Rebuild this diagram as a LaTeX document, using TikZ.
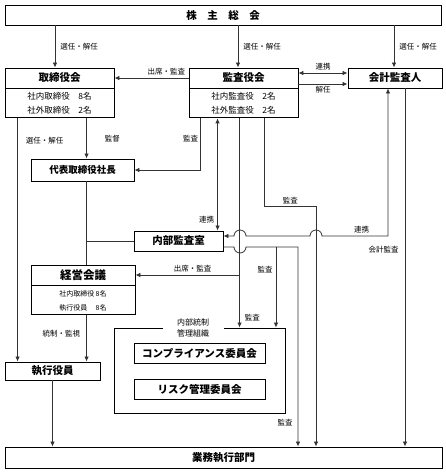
\documentclass[tikz,border=0pt]{standalone}
\usepackage{fontspec}
\setmainfont{Noto Sans CJK JP}
\usetikzlibrary{arrows.meta}
\tikzstyle{box}=[draw=black,line width=0.9pt,inner sep=0pt,font=\fontsize{10.5}{12}\selectfont\bfseries]
\tikzstyle{rows}=[draw=black,line width=0.9pt,inner sep=0pt,align=center,anchor=north,font=\fontsize{8.5}{14}\selectfont]
\tikzstyle{lbl}=[inner sep=1pt,font=\fontsize{7.5}{9}\selectfont]
\tikzstyle{line}=[draw=black!80,line width=0.8pt]
\tikzstyle{arrow}=[line,-{Latex[length=5pt,width=4.5pt]}]
\tikzstyle{twoway}=[line,{Latex[length=5pt,width=4.5pt]}-{Latex[length=5pt,width=4.5pt]}]

\begin{document}
\begin{tikzpicture}[x=1pt,y=1pt]
\useasboundingbox (0,0) rectangle (446,-472);
% boxes
\node[box,minimum width=436pt,minimum height=20pt] (soukai) at (223,-15) {株\hspace{1em}主\hspace{1em}総\hspace{1em}会};
\node[box,minimum width=109pt,minimum height=20pt] (torishimari) at (59.5,-78) {取締役会};
\node[rows,minimum width=109pt,minimum height=29pt] (torishimariin) at (torishimari.south) {社内取締役\quad 8名\\社外取締役\quad 2名};
\node[box,minimum width=109pt,minimum height=20pt] (kansayaku) at (243.5,-78) {監査役会};
\node[rows,minimum width=109pt,minimum height=29pt] (kansayakuin) at (kansayaku.south) {社内監査役\quad 2名\\社外監査役\quad 2名};
\node[box,minimum width=94pt,minimum height=20pt] (kaikei) at (395,-78) {会計監査人};
\node[box,minimum width=103pt,minimum height=22pt,font=\fontsize{9.5}{12}\selectfont\bfseries] (shacho) at (82.5,-170) {代表取締役社長};
\node[box,minimum width=89pt,minimum height=20pt] (naibu) at (178.5,-241) {内部監査室};
\node[box,minimum width=104pt,minimum height=20pt,font=\fontsize{11.5}{12}\selectfont\bfseries] (keiei) at (83,-275) {経営会議};
\node[rows,minimum width=104pt,minimum height=29pt,font=\fontsize{7}{14}\selectfont] (keieiin) at (keiei.south) {社内取締役\,8名\\執行役員\hspace{1em}\,8名};
\node[box,minimum width=95pt,minimum height=18pt] (shikko) at (52.5,-371) {執行役員};
\node[draw=black,line width=0.9pt,minimum width=171pt,minimum height=85pt] (tousei) at (199.5,-370.5) {};
\node[lbl,fill=white,align=center,minimum width=61pt,font=\fontsize{8}{10.5}\selectfont] (touseilbl) at (193,-328) {内部統制\\管理組織};
\node[box,minimum width=131pt,minimum height=20pt] (comp) at (199.5,-353) {コンプライアンス委員会};
\node[box,minimum width=131pt,minimum height=20pt] (risk) at (199.5,-389) {リスク管理委員会};
\node[box,minimum width=437pt,minimum height=21pt] (gyomu) at (223.5,-457.5) {業務執行部門};

% points on the boxes
\coordinate (selA) at ([xshift=-4.5pt]torishimari.north);
\coordinate (selB) at ([xshift=-5.5pt]kansayaku.north);
\coordinate (selC) at ([xshift=-1pt]kaikei.north);
\coordinate (trA) at ([xshift=13pt]torishimariin.south west);
\coordinate (trB) at ([xshift=82pt]torishimariin.south west);
\coordinate (kaA) at ([xshift=12pt]kansayakuin.south west);
\coordinate (kaB) at ([xshift=29pt]kansayakuin.south west);
\coordinate (kaC) at ([xshift=51pt]kansayakuin.south west);
\coordinate (kaD) at ([xshift=76pt]kansayakuin.south west);
\coordinate (kkA) at ([xshift=-7pt]kaikei.south);
\coordinate (kkB) at ([xshift=10pt]kaikei.south);
\coordinate (nbA) at ([yshift=5pt]naibu.east);
\coordinate (nbB) at ([yshift=-6pt]naibu.east);

% shareholders
\draw[arrow] (selA |- soukai.south) -- node[lbl,right=4pt]{選任・解任} (selA);
\draw[arrow] (selB |- soukai.south) -- node[lbl,right=4pt]{選任・解任} (selB);
\draw[arrow] (selC |- soukai.south) -- node[lbl,right=4pt]{選任・解任} (selC);

% audit board
\draw[arrow] (kansayaku.west) -- node[lbl,pos=0.3,above=1pt]{出席・監査} (torishimari.east);
\draw[twoway] ([yshift=5pt]kansayaku.east) -- node[lbl,above=1pt]{連携} ([yshift=5pt]kaikei.west);
\draw[arrow] ([yshift=-6pt]kansayaku.east) -- node[lbl,below=1pt]{解任} ([yshift=-6pt]kaikei.west);
\draw[arrow] (kaA) |- node[lbl,pos=0.2,left=1pt]{監査} (shacho.east);
\draw[twoway] (kaB) -- node[lbl,pos=0.9,left=2pt]{連携} (kaB |- naibu.north);
\draw[arrow] (kaC) -- node[lbl,pos=0.95,right=4pt]{監査} (kaC |- tousei.north);
\draw[arrow] (kaC |- keiei.east) -- node[lbl,pos=0.45,above=1pt]{出席・監査} (keiei.east);
\draw[arrow] (kaD) |- node[lbl,pos=0.75,above=1pt]{監査} (316,-206) -- (316,-206 |- gyomu.north);

% board of directors
\draw[arrow] (trA) -- node[lbl,pos=0.09,right=7pt]{選任・解任} (trA |- shikko.north);
\draw[arrow] (trB) -- node[lbl,pos=0.5,right=17pt]{監督} (trB |- shacho.north);
\draw[line] (trB |- shacho.south) -- (trB |- keiei.north);
\draw[line] (naibu.west) -- (trB |- naibu.west);
\draw[arrow] (trB |- keieiin.south) -- node[lbl,pos=0.4,left=5pt]{統制・監視} (trB |- shikko.north);
\draw[arrow] (shikko.south) -- (shikko.south |- gyomu.north);

% internal audit office
\draw[twoway] (nbA) -- (234,-236) arc (180:0:6) -- (310,-236) arc (180:0:6) -- node[lbl,pos=0.6,above=1pt]{連携} (kkA |- nbA) -- (kkA);
\draw[arrow] (nbB) -- (234,-247) arc (180:360:6) -- (298,-247) -- node[lbl,pos=0.88,left=4pt]{監査} (298,-247 |- gyomu.north);
\draw[arrow] (276,-247) -- node[lbl,pos=0.28,left=2pt]{監査} (276,-247 |- tousei.north);

% accounting auditor
\draw[arrow] (kkB) -- node[lbl,pos=0.45,left=5pt]{会計監査} (kkB |- gyomu.north);
\end{tikzpicture}
\end{document}
